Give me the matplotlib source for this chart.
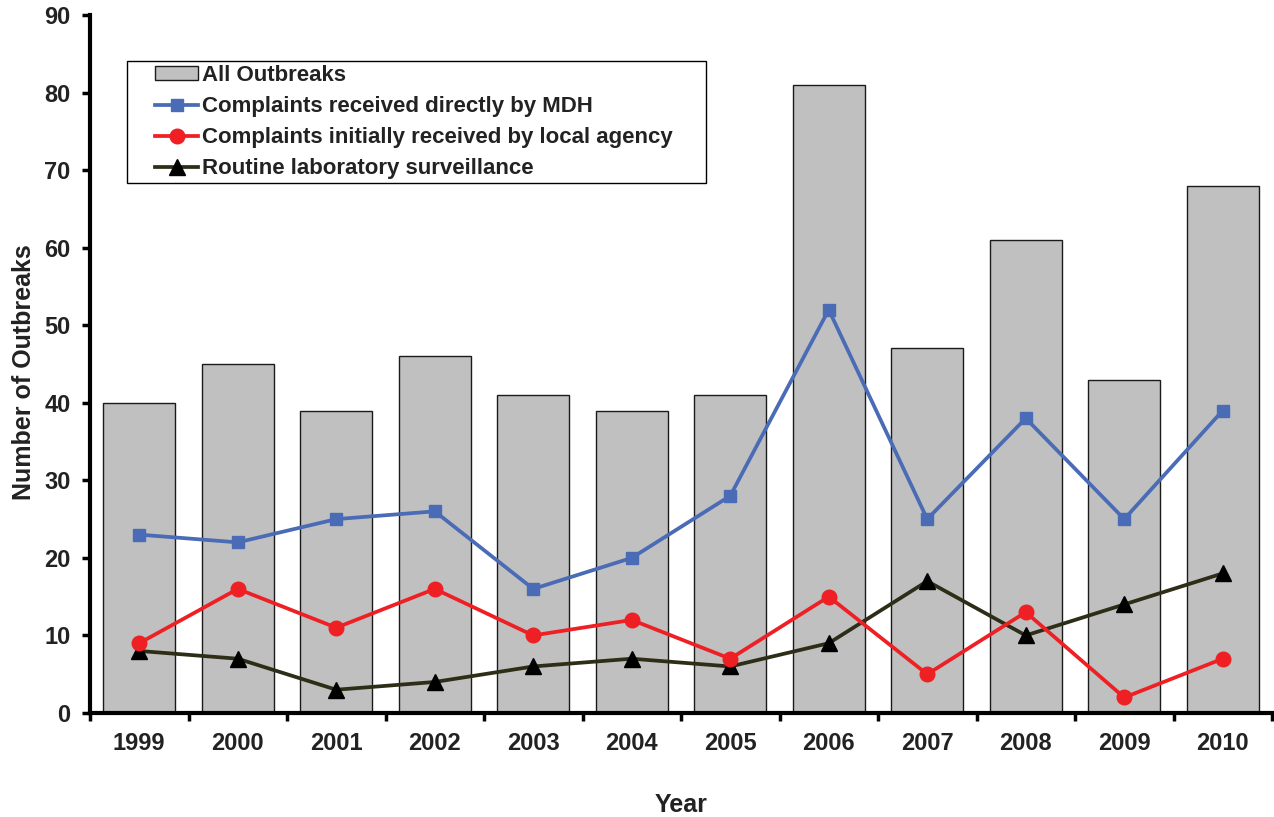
import numpy as np
import matplotlib
matplotlib.use("Agg")
import matplotlib.pyplot as plt
from matplotlib.patches import Rectangle

plt.rcParams['font.family'] = ['Liberation Sans', 'DejaVu Sans']
plt.rcParams['font.weight'] = 'bold'

years = ["1999", "2000", "2001", "2002", "2003", "2004",
         "2005", "2006", "2007", "2008", "2009", "2010"]
all_outbreaks = [40, 45, 39, 46, 41, 39, 41, 81, 47, 61, 43, 68]
direct_mdh = [23, 22, 25, 26, 16, 20, 28, 52, 25, 38, 25, 39]
local_agency = [9, 16, 11, 16, 10, 12, 7, 15, 5, 13, 2, 7]
lab_surveillance = [8, 7, 3, 4, 6, 7, 6, 9, 17, 10, 14, 18]

W, H = 1274, 817
x = np.arange(len(years))

fig = plt.figure(figsize=(W / 100, H / 100), dpi=100)
ax = fig.add_axes([90 / W, 1 - 713 / H, 1182 / W, 698 / H])

bars = ax.bar(x, all_outbreaks, width=0.73, color="#c0c0c0", edgecolor="#1a1a1a",
              linewidth=1.0, label="All Outbreaks", zorder=1)
l1, = ax.plot(x, direct_mdh, color="#4a6bb5", lw=2.7, marker="s", ms=9,
              label="Complaints received directly by MDH", zorder=3)
l2, = ax.plot(x, local_agency, color="#ee2024", lw=2.7, marker="o", ms=10.5,
              label="Complaints initially received by local agency", zorder=3)
l3, = ax.plot(x, lab_surveillance, color="#2e2e18", lw=2.7, marker="^", ms=11,
              mfc="black", mec="black",
              label="Routine laboratory surveillance", zorder=2)

ax.set_xlim(-0.5, len(years) - 0.5)
ax.set_ylim(0, 90)
ax.set_yticks(range(0, 91, 10))
ax.set_xticks(x)
ax.set_xticklabels(years)
ax.set_xticks(np.arange(-0.5, len(years), 1.0), minor=True)
ax.tick_params(axis='x', which='major', length=0, pad=14, labelsize=17,
               labelcolor='#222222')
ax.tick_params(axis='x', which='minor', length=6, width=2.5, direction='out')
ax.tick_params(axis='y', length=6, width=2.5, direction='out', labelsize=17,
               colors='black', labelcolor='#222222', pad=8)

for s in ['top', 'right']:
    ax.spines[s].set_visible(False)
for s in ['left', 'bottom']:
    ax.spines[s].set_linewidth(3)

ax.set_ylabel("Number of Outbreaks", fontsize=18, fontweight='bold',
              color='#222222')
ax.yaxis.set_label_coords(-0.0455, 0.488)
ax.set_xlabel("Year", fontsize=18, fontweight='bold', color='#222222', labelpad=27)

# legend box drawn separately so the handles sit inset from its left edge
fig.patches.append(Rectangle((127 / W, 1 - 183 / H), 579 / W, 122 / H,
                             transform=fig.transFigure, fill=False,
                             edgecolor='black', linewidth=1.0, zorder=5))
leg = fig.legend([bars, l1, l2, l3],
                 [h.get_label() for h in (bars, l1, l2, l3)],
                 loc='upper left', bbox_to_anchor=(155 / W, 1 - 65 / H),
                 fontsize=16, frameon=False,
                 handlelength=1.95, handleheight=0.6, handletextpad=0.15,
                 labelspacing=0.45, borderpad=0, borderaxespad=0)
for t in leg.get_texts():
    t.set_color('#222222')
    t.set_fontweight('bold')

fig.savefig("out.png", dpi=100)
